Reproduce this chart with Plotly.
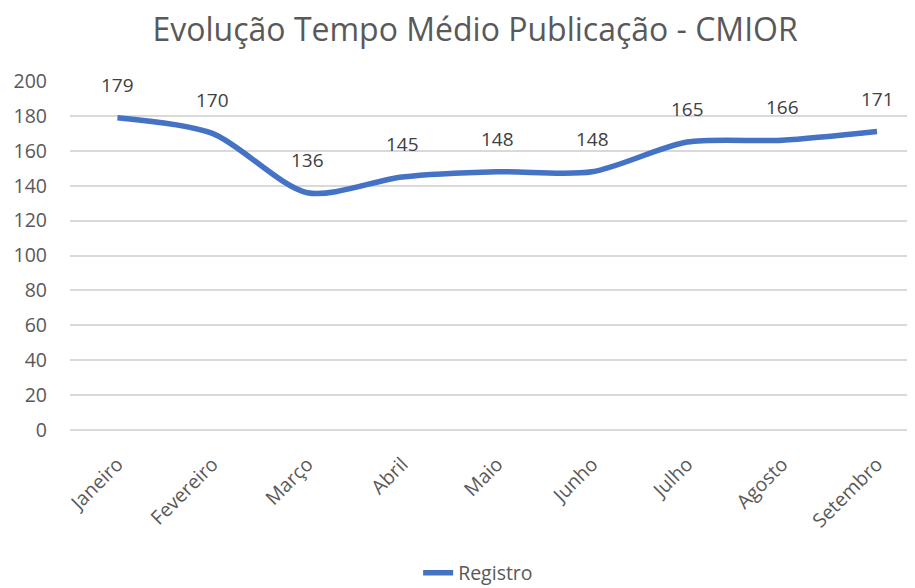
import plotly.graph_objects as go

months = ["Janeiro", "Fevereiro", "Março", "Abril", "Maio", "Junho", "Julho", "Agosto", "Setembro"]
values = [179, 170, 136, 145, 148, 148, 165, 166, 171]
series_name = "Registro"
y_ticks = list(range(0, 201, 20))

fig = go.Figure()
fig.add_trace(go.Scatter(
    x=months, y=values, mode="lines", name=series_name,
    line=dict(color="#4472C4", width=5.5, shape="spline", smoothing=0.8),
))
for m, v in zip(months, values):
    fig.add_annotation(x=m, y=v, text=str(v), showarrow=False, yshift=33,
                       font=dict(size=19, color="#404040", family="Open Sans"))

fig.update_layout(
    width=907, height=588,
    paper_bgcolor="white", plot_bgcolor="white",
    margin=dict(l=62, r=0, t=73, b=166),
    title=dict(text="Evolução Tempo Médio Publicação - CMIOR", x=0.515, xanchor="center",
               y=0.9626, yanchor="middle",
               font=dict(size=32, color="#595959", family="Open Sans")),
    font=dict(family="Open Sans", color="#595959"),
    showlegend=True,
    legend=dict(orientation="h", x=0.483, xanchor="center", y=-0.41, yanchor="middle",
                font=dict(size=19.5, color="#595959")),
    xaxis=dict(range=[-0.5, 8.4], tickangle=-45, tickfont=dict(size=19.5, color="#595959"),
               showgrid=False, showline=False, ticks="", ticklabelstandoff=18),
    yaxis=dict(range=[0, 200], tickvals=y_ticks, tickfont=dict(size=19.5, color="#595959"),
               showgrid=True, gridcolor="#D9D9D9", gridwidth=1.5, zeroline=True,
               zerolinecolor="#D9D9D9", zerolinewidth=1.5, ticks="", ticklabelstandoff=22),
)
fig.write_html("out.html")
